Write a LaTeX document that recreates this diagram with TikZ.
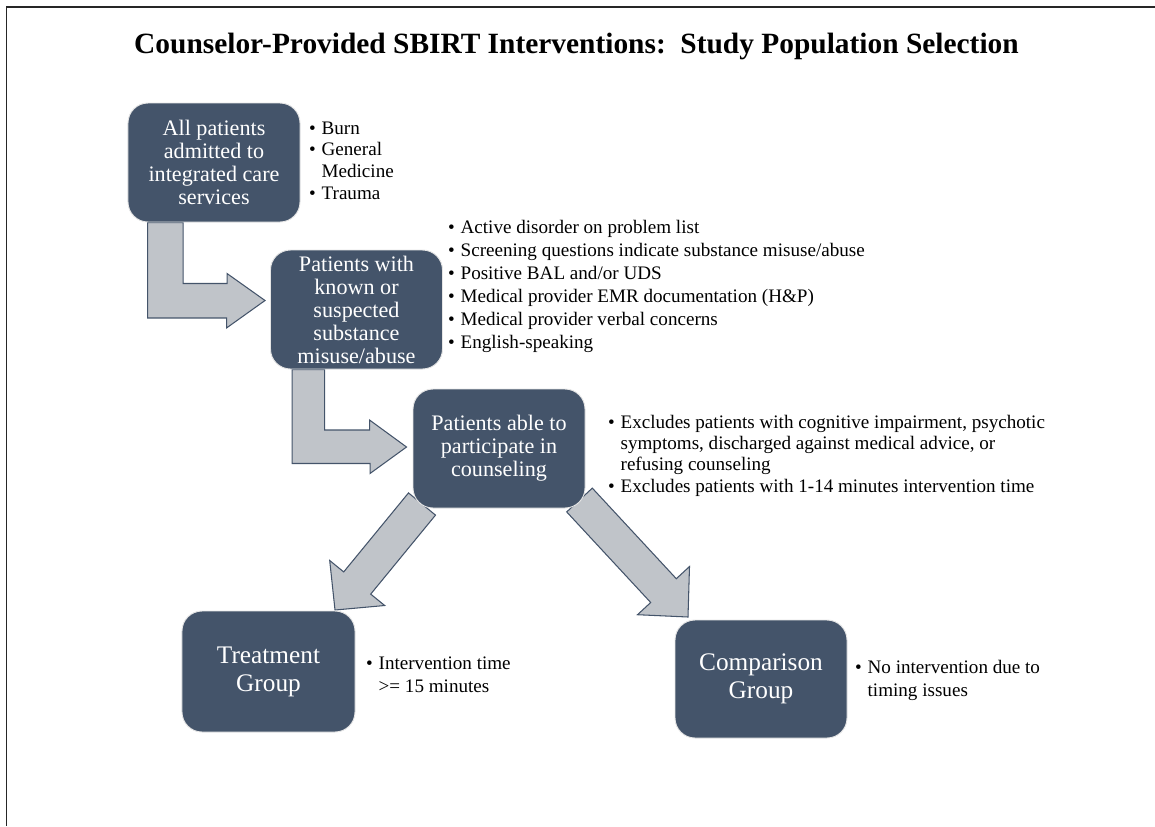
\documentclass[tikz,border=0pt]{standalone}
\usepackage{fontspec}
\setmainfont{Liberation Serif}
\usetikzlibrary{calc}

\definecolor{boxblue}{HTML}{44546A}
\definecolor{arrowgray}{RGB}{192,196,201}

\pgfdeclarelayer{background}
\pgfsetlayers{background,main}

\tikzset{
  stage/.style={rounded corners=0.6cm, fill=boxblue, draw=gray!20, line width=0.8pt,
    text=white, align=center, inner sep=2pt,
    minimum width=5.16cm, minimum height=3.57cm,
    font=\fontsize{18.9}{19.6}\selectfont},
  group/.style={stage, font=\fontsize{21.6}{24}\selectfont},
  blockarrow/.style={fill=arrowgray, draw=boxblue, line width=0.9pt, line join=miter},
  notes/.style={anchor=west, inner sep=0pt, align=left,
    font=\fontsize{16.3}{19.6}\selectfont}
}

\newcommand{\bul}{\textbullet}

\begin{document}
\begin{tikzpicture}[x=0.03cm, y=-0.03cm]
\useasboundingbox (0,0) rectangle (1155,826);
% frame
\draw[line width=1.7pt, black!85] (6.5,826) -- (6.5,6.5) -- (1155,6.5);

\node[anchor=base, font=\fontsize{25.1}{30}\selectfont\bfseries] (title) at (576.5,53)
  {Counselor-Provided SBIRT Interventions:\ \ Study Population Selection};

% stages
\node[stage] (all) at (214,162.5) {All patients\\admitted to\\integrated care\\services};
\node[stage] (known) at (356.5,309.5) {Patients with\\known or\\suspected\\substance\\misuse/abuse};
\node[stage] (able) at (499,448.5) {Patients able to\\participate in\\counseling};
\node[group, minimum width=5.19cm, minimum height=3.63cm] (treat) at (268.5,671.5) {Treatment\\Group};
\node[group, minimum height=3.54cm] (comp) at (761,679) {Comparison\\Group};

% notes
\node[notes, font=\fontsize{16.3}{18.7}\selectfont] (allnotes) at (309,162.5)
  {\begin{tabular}{@{}l@{\hspace{0.3em}}l@{}}
   \bul & Burn\\ \bul & General\\ & Medicine\\ \bul & Trauma
   \end{tabular}};
\node[notes] (knownnotes) at (448,286)
  {\begin{tabular}{@{}l@{\hspace{0.3em}}l@{}}
   \bul & Active disorder on problem list\\
   \bul & Screening questions indicate substance misuse/abuse\\
   \bul & Positive BAL and/or UDS\\
   \bul & Medical provider EMR documentation (H\&P)\\
   \bul & Medical provider verbal concerns\\
   \bul & English-speaking
   \end{tabular}};
\node[notes, font=\fontsize{16.3}{18.2}\selectfont] (ablenotes) at (608,456)
  {\begin{tabular}{@{}l@{\hspace{0.3em}}l@{}}
   \bul & Excludes patients with cognitive impairment, psychotic\\
       & symptoms, discharged against medical advice, or\\
       & refusing counseling\\
   \bul & Excludes patients with 1-14 minutes intervention time
   \end{tabular}};
\node[notes] (treatnotes) at (366,676)
  {\begin{tabular}{@{}l@{\hspace{0.3em}}l@{}}
   \bul & Intervention time\\ & >= 15 minutes
   \end{tabular}};
\node[notes] (compnotes) at (855,680.5)
  {\begin{tabular}{@{}l@{\hspace{0.3em}}l@{}}
   \bul & No intervention due to\\ & timing issues
   \end{tabular}};

% block arrows behind the boxes
\begin{pgfonlayer}{background}
\draw[blockarrow] ($(all.south west)+(20,0)$) -- ++(0,95.5) -- ++(79,0) -- ++(0,10)
  -- ($(known.west)+(-5,-9)$) -- ++(-38,-27) -- ++(0,10) -- ++(-44,0) |- cycle;
\draw[blockarrow] ($(known.south west)+(22,0)$) -- ++(0,94) -- ++(78,0) -- ++(0,10)
  -- ($(able.west)+(-6,-1.5)$) -- ++(-37,-27) -- ++(0,10) -- ++(-45,0) |- cycle;
\draw[blockarrow] (408.5,492.9) -- (343.7,571.9) -- (329.7,560.5) -- (335,610)
  -- (384.7,605.5) -- (370.7,594.1) -- (435.5,515.1) -- cycle;
\draw[blockarrow] (592.3,488.1) -- (676.3,578.7) -- (689.5,566.5) -- (688,617)
  -- (637.5,614.7) -- (650.7,602.5) -- (566.7,511.9) -- cycle;
\end{pgfonlayer}
\end{tikzpicture}
\end{document}
